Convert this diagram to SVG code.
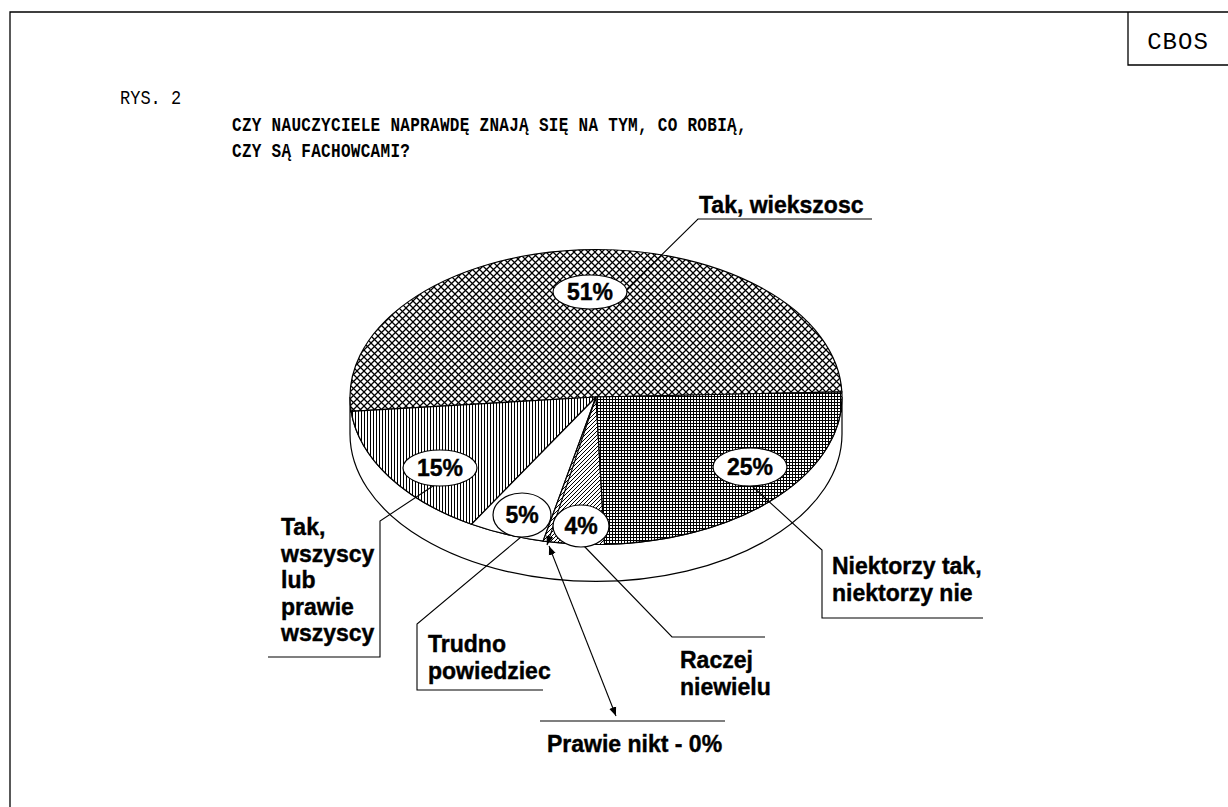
<svg xmlns="http://www.w3.org/2000/svg" width="1228" height="807" viewBox="0 0 1228 807">
<style>
.frame{fill:none;stroke:#000;stroke-width:1.3}
.mono{font-family:"Liberation Mono","Courier New",monospace;fill:#000}
.lbl{font-family:"Liberation Sans",Arial,sans-serif;font-weight:bold;font-size:23px;fill:#000;stroke:#000;stroke-width:0.4}
.pct{font-family:"Liberation Sans",Arial,sans-serif;font-weight:bold;font-size:23px;fill:#000;stroke:#000;stroke-width:0.4;text-anchor:middle}
.oval{fill:#fff;stroke:#000;stroke-width:1.2}
.slice{stroke:#000;stroke-width:1.2}
.ln{fill:none;stroke:#000;stroke-width:1.1}
</style>
<defs>
<pattern id="pCross" patternUnits="userSpaceOnUse" width="7" height="7">
<rect width="7" height="7" fill="#fff"/>
<path d="M0,0 L7,7 M0,7 L7,0" stroke="#000" stroke-width="1.25"/>
</pattern>
<pattern id="pVert" patternUnits="userSpaceOnUse" width="3" height="3">
<rect width="3" height="3" fill="#fff"/>
<path d="M1.5,0 V3" stroke="#000" stroke-width="1"/>
</pattern>
<pattern id="pDiag" patternUnits="userSpaceOnUse" width="4" height="4">
<rect width="4" height="4" fill="#fff"/>
<path d="M0,4 L4,0 M-1,1 L1,-1 M3,5 L5,3" stroke="#000" stroke-width="1"/>
</pattern>
<pattern id="pGrid" patternUnits="userSpaceOnUse" width="3" height="3">
<rect width="3" height="3" fill="#fff"/>
<path d="M0,0.5 H3 M0.5,0 V3" stroke="#000" stroke-width="1"/>
</pattern>
<marker id="arr" viewBox="0 0 10 10" refX="10" refY="5" markerWidth="9" markerHeight="9" markerUnits="userSpaceOnUse" orient="auto-start-reverse">
<path d="M0,1 L10,5 L0,9 Z" fill="#000"/>
</marker>
</defs>

<g id="frame">
<path class="frame" d="M10,807 V12 H1228"/>
<path class="frame" d="M1128,12 V65 H1228"/>
<text class="mono" x="1178" y="49" font-size="24" text-anchor="middle" letter-spacing="1">CBOS</text>
</g>

<g id="title">
<text class="mono" font-size="17" transform="translate(120,104) scale(1,1.15)">RYS. 2</text>
<text class="mono" font-size="16" font-weight="bold" letter-spacing="0.3" transform="translate(232,131) scale(1,1.25)">CZY NAUCZYCIELE NAPRAWDĘ ZNAJĄ SIĘ NA TYM, CO ROBIĄ,</text>
<text class="mono" font-size="16" font-weight="bold" letter-spacing="0.3" transform="translate(232,157) scale(1,1.25)">CZY SĄ FACHOWCAMI?</text>
</g>

<g id="pie">
<path id="side" fill="#fff" stroke="#000" stroke-width="1.2" d="M350,397 L350,434 A246,147.5 0 0 0 842,434 L842,397 A246,147.5 0 0 1 350,397 Z"/>
<path id="s51" class="slice" fill="url(#pCross)" d="M596,397 L841.85,391.85 A246,147.5 0 1 0 351.17,411.39 Z"/>
<path id="s15" class="slice" fill="url(#pVert)" d="M596,397 L351.17,411.39 A246,147.5 0 0 0 471.52,524.22 Z"/>
<path id="s5" class="slice" fill="#fff" d="M596,397 L471.52,524.22 A246,147.5 0 0 0 543.17,541.06 Z"/>
<path id="s4" class="slice" fill="url(#pDiag)" d="M596,397 L543.17,541.06 A246,147.5 0 0 0 604.59,544.41 Z"/>
<path id="s25" class="slice" fill="url(#pGrid)" d="M596,397 L604.59,544.41 A246,147.5 0 0 0 841.85,391.85 Z"/>
</g>

<g id="connectors">
<path class="ln" d="M626,290 L698,219 H872"/>
<path class="ln" d="M436,484 L380,521 V657 H268"/>
<path class="ln" d="M521,537 L417,624 V690 H543"/>
<path class="ln" d="M584,546 L672,637 H765"/>
<path class="ln" d="M752,486 L822,550 V618 H983"/>
<path class="ln" d="M540,721 H725"/>
<path class="ln" d="M596,397 L547,545" stroke-width="1.8" marker-end="url(#arr)"/>
<path class="ln" d="M549,546 L616,716" marker-start="url(#arr)" marker-end="url(#arr)"/>
</g>

<g id="n51">
<ellipse class="oval" cx="590" cy="292" rx="37" ry="17"/>
<text class="pct" x="590" y="300">51%</text>
</g>
<g id="n15">
<ellipse class="oval" cx="440" cy="468" rx="37" ry="18"/>
<text class="pct" x="440" y="476">15%</text>
</g>
<g id="n25">
<ellipse class="oval" cx="750" cy="467" rx="37" ry="19"/>
<text class="pct" x="750" y="475">25%</text>
</g>
<g id="n5">
<ellipse class="oval" cx="522" cy="515" rx="29" ry="22"/>
<text class="pct" x="522" y="523">5%</text>
</g>
<g id="n4">
<ellipse class="oval" cx="581" cy="526" rx="28" ry="21"/>
<text class="pct" x="581" y="534">4%</text>
</g>

<g id="labelTakWiekszosc">
<text class="lbl" x="699" y="213">Tak, wiekszosc</text>
</g>
<g id="labelTakWszyscy">
<text class="lbl" x="281" y="535">Tak,</text>
<text class="lbl" x="281" y="562">wszyscy</text>
<text class="lbl" x="281" y="588">lub</text>
<text class="lbl" x="281" y="615">prawie</text>
<text class="lbl" x="281" y="641">wszyscy</text>
</g>
<g id="labelTrudno">
<text class="lbl" x="428" y="652">Trudno</text>
<text class="lbl" x="428" y="679">powiedziec</text>
</g>
<g id="labelRaczej">
<text class="lbl" x="680" y="668">Raczej</text>
<text class="lbl" x="680" y="695">niewielu</text>
</g>
<g id="labelNiektorzy">
<text class="lbl" x="832" y="574">Niektorzy tak,</text>
<text class="lbl" x="832" y="601">niektorzy nie</text>
</g>
<g id="labelPrawieNikt">
<text class="lbl" x="547" y="752">Prawie nikt - 0%</text>
</g>
</svg>
